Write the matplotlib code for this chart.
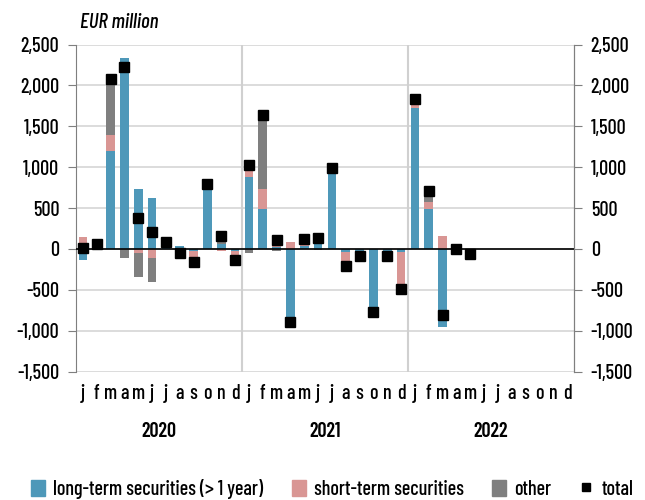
import numpy as np
import matplotlib
matplotlib.use('Agg')
import matplotlib.pyplot as plt
from matplotlib.patches import Patch
from matplotlib.lines import Line2D
from matplotlib import font_manager

names = {f.name for f in font_manager.fontManager.ttflist}
if 'Barlow Condensed' in names:
    plt.rcParams['font.family'] = ['Barlow Condensed', 'DejaVu Sans']
    fs = 14.5
else:
    plt.rcParams['font.family'] = ['DejaVu Sans']
    fs = 10
plt.rcParams['font.weight'] = 'medium'

months = ['j', 'f', 'm', 'a', 'm', 'j', 'j', 'a', 's', 'o', 'n', 'd'] * 3
years = ['2020', '2021', '2022']

# Jan 2020 .. May 2022
long_term = [-140, 40, 1200, 2330, 735, 620, 80, 40, -20, 730, 60, -30,
             875, 490, 30, -970, 40, 60, 930, -40, -50, -705, -50, -40,
             1720, 490, -950, 0, -30]
short_term = [150, 10, 195, 0, -50, -105, 10, -60, -110, 60, -20, -90,
              90, 240, 50, 85, 70, 80, 40, -155, -20, -30, -30, -430,
              60, 90, 160, 0, -20]
other = [0, 10, 620, -110, -290, -300, 0, -30, -30, 10, 100, -20,
         -50, 855, -20, 0, 10, -15, 0, -15, -10, -30, -10, -20,
         0, 75, 0, 0, -15]
total = [10, 60, 2080, 2220, 380, 210, 90, -50, -160, 800, 160, -140,
         1030, 1640, 110, -890, 120, 140, 990, -210, -80, -765, -90, -490,
         1830, 710, -805, 0, -65]

c_lt = '#4E98B9'
c_st = '#D99694'
c_ot = '#7F7F7F'

fig = plt.figure(figsize=(6.45, 5), dpi=100)
ax = fig.add_axes([76 / 645, 1 - 371.7 / 500, (574 - 76) / 645, (371.7 - 44.5) / 500])

x = np.arange(len(total))
pos_base = np.zeros(len(x))
neg_base = np.zeros(len(x))
for vals, col in [(long_term, c_lt), (short_term, c_st), (other, c_ot)]:
    v = np.array(vals, dtype=float)
    p = np.where(v > 0, v, 0)
    n = np.where(v < 0, v, 0)
    ax.bar(x, p, bottom=pos_base, width=0.63, color=col, zorder=2)
    ax.bar(x, n, bottom=neg_base, width=0.63, color=col, zorder=2)
    pos_base += p
    neg_base += n

ax.plot(x, total, 's', color='black', markersize=7.5, zorder=4)
ax.axhline(0, color='black', lw=1.2, zorder=3)
for b in [11.5, 23.5]:
    ax.axvline(b, color='#D0D0D0', lw=1.5, zorder=1)

ax.set_xlim(-0.5, 35.5)
ax.set_ylim(-1500, 2500)
yt = np.arange(-1500, 2501, 500)
ax.set_yticks(yt)
ax.set_yticklabels([f'{v:,}' for v in yt])
ax.yaxis.grid(True, color='#D9D9D9', lw=1.3, zorder=0)
ax.set_axisbelow(True)
ax.set_xticks(np.arange(36))
ax.set_xticklabels(months)
ax.tick_params(axis='x', length=0, pad=9, labelsize=fs)
ax.tick_params(axis='y', direction='out', length=6, color='#7F7F7F', labelsize=fs, pad=6)

for s in ['top', 'bottom']:
    ax.spines[s].set_visible(False)
for s in ['left', 'right']:
    ax.spines[s].set_color('#7F7F7F')

ax2 = ax.twinx()
ax2.set_ylim(-1500, 2500)
ax2.set_yticks(yt)
ax2.set_yticklabels([f'{v:,}' for v in yt])
ax2.tick_params(axis='y', direction='out', length=6, color='#7F7F7F', labelsize=fs, pad=6)
for s in ['top', 'bottom', 'left']:
    ax2.spines[s].set_visible(False)
ax2.spines['right'].set_color('#7F7F7F')

for i, yr in enumerate(years):
    ax.text(5.5 + 12 * i, -0.182, yr, transform=ax.get_xaxis_transform(),
            ha='center', va='center', fontsize=fs, fontweight='semibold')

fig.text(80 / 645, 1 - 22 / 500, 'EUR million', style='italic', fontsize=fs + 0.5,
         ha='left', va='center')

handles = [Patch(color=c_lt), Patch(color=c_st), Patch(color=c_ot),
           Line2D([], [], marker='s', color='black', ls='none', markersize=6)]
labels = ['long-term securities (> 1 year)', 'short-term securities', 'other', 'total']
fig.legend(handles, labels, loc='center', bbox_to_anchor=(0.515, 1 - 489 / 500), ncol=4,
           frameon=False, fontsize=fs, handlelength=0.7, handleheight=0.9,
           handletextpad=0.4, columnspacing=1.4)

fig.savefig('out.png', dpi=100)
